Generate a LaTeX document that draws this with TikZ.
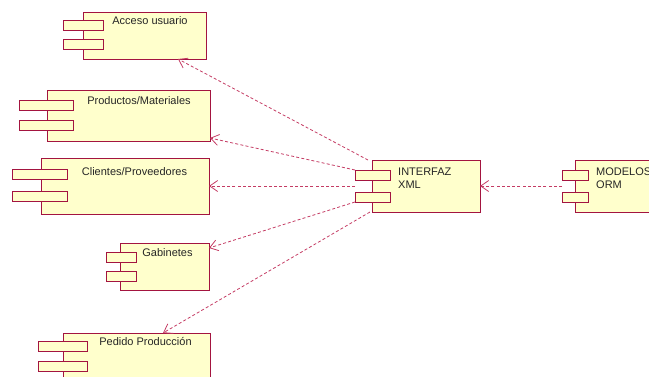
\documentclass[tikz,border=0pt]{standalone}
\usepackage{fontspec}
\setmainfont{Liberation Sans}
\usetikzlibrary{arrows.meta}
\definecolor{umlborder}{RGB}{163,20,64}
\definecolor{umlfill}{RGB}{255,255,204}
\definecolor{deplink}{RGB}{196,60,100}
\tikzset{
  comp/.style={draw=umlborder, fill=umlfill, line width=0.9pt, anchor=north west,
    inner sep=0pt, outer sep=0pt},
  tab/.style={draw=umlborder, fill=umlfill, line width=0.9pt, anchor=north west,
    inner sep=0pt, outer sep=0pt},
  lbl/.style={font=\fontsize{11}{13}\selectfont, text=black!85, inner sep=0pt, anchor=base},
  lblleft/.style={lbl, anchor=base west},
  dep/.style={draw=deplink, line width=0.8pt, dash pattern=on 3pt off 2.2pt,
    -{Straight Barb[length=8pt,width=11pt,line width=0.8pt]}}
}
% component: body + two tabs
\newcommand{\umlcomp}[9]{%
  % #1 name, #2 x, #3 y, #4 w, #5 h, #6 tab x, #7 tab w, #8 tab1 y, #9 tab2 y
  \node[comp, minimum width=#4pt, minimum height=#5pt] (#1) at (#2,#3) {};
  \node[tab, minimum width=#7pt, minimum height=10pt] (#1t1) at (#6,#8) {};
  \node[tab, minimum width=#7pt, minimum height=10pt] (#1t2) at (#6,#9) {};
}
\begin{document}
\begin{tikzpicture}[x=1pt,y=-1pt]
\useasboundingbox (0,0) rectangle (649,376);
\clip (0,0) rectangle (649,376);

\umlcomp{acc}{83}{12}{123}{47}{63}{40}{20}{39}
\umlcomp{prod}{47}{90}{163}{51}{19}{54}{100}{120}
\umlcomp{cli}{41}{158}{168}{56}{12}{55}{169}{191}
\umlcomp{gab}{120}{243}{89}{47}{106}{30}{252}{271}
\umlcomp{ped}{63}{333}{147}{60}{38}{49}{341}{361}
\umlcomp{ifx}{372}{160}{108}{52}{355}{35}{170}{192}
\umlcomp{orm}{575}{160}{100}{52}{562}{26}{170}{192}

\node[lbl] (accL) at (150,24) {Acceso usuario};
\node[lbl] (prodL) at (139,104) {Productos/Materiales};
\node[lbl] (cliL) at (134.5,175) {Clientes/Proveedores};
\node[lbl] (gabL) at (167.5,256) {Gabinetes};
\node[lbl] (pedL) at (145.5,345) {Pedido Producción};
\node[lblleft] (ifL1) at (398,175) {INTERFAZ};
\node[lblleft] (ifL2) at (398,188) {XML};
\node[lblleft] (ormL1) at (596,175) {MODELOS};
\node[lblleft] (ormL2) at (596,188) {ORM};

% dependencies
\draw[dep] ([xshift=-4pt]ifx.north west) -- ([xshift=-28pt]acc.south east);
\draw[dep] (ifxt1.north west) -- ([yshift=3pt]prod.south east);
\draw[dep] ([xshift=-17pt]ifx.west) -- (cli.east);
\draw[dep] (ifxt2.south west) -- ([yshift=-5pt]gab.north east);
\draw[dep] ([xshift=-2pt]ifx.south west) -- ([xshift=-47pt]ped.north east);
\draw[dep] (ormt1.west |- orm.west) -- (ifx.east);
\end{tikzpicture}
\end{document}
